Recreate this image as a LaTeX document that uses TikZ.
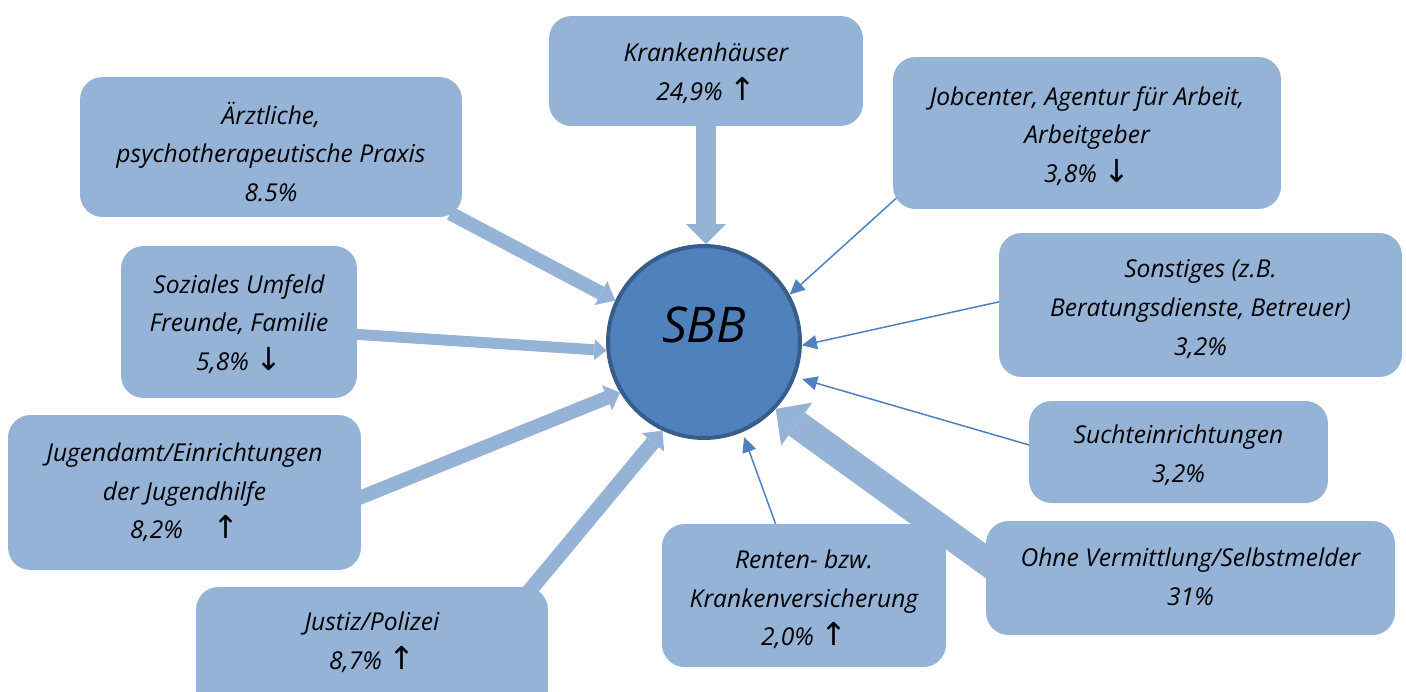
\documentclass[tikz,border=0pt]{standalone}
\usepackage{fontspec}
\setmainfont{Open Sans}
\newfontfamily\arrowfont{DejaVu Sans}
\usetikzlibrary{arrows.meta,calc}
\definecolor{boxblue}{HTML}{95B3D7}
\definecolor{sbbfill}{HTML}{4F81BD}
\definecolor{sbbline}{HTML}{385D8A}
\definecolor{thinblue}{HTML}{4F81BD}
\newcommand\uarr{{\arrowfont\fontsize{18}{18}\selectfont\char"2191}}
\newcommand\darr{{\arrowfont\fontsize{18}{18}\selectfont\char"2193}}
\newcommand\boxtext{\fontsize{14}{22}\selectfont\itshape}
\pgfdeclarelayer{background}
\pgfsetlayers{background,main}
\begin{document}
\begin{tikzpicture}[x=0.02cm,y=-0.02cm,
  box/.style={fill=boxblue, rounded corners=0.45cm, inner sep=0pt},
  boxtxt/.style={inner sep=0pt, align=center, font=\boxtext},
  fat/.style n args={3}{draw=boxblue, line width=#1, -{Triangle[width=#2,length=#3,line width=0pt]}},
  thinarrow/.style={draw=thinblue, line width=0.03cm, -{Triangle[width=0.28cm,length=0.3cm]}}]
\useasboundingbox (0,0) rectangle (1406,691);
\clip (0,0) rectangle (1406,691);

% boxes
\node[box, minimum width=6.28cm, minimum height=2.2cm] (kh) at (706,71) {};
\node[box, minimum width=7.64cm, minimum height=2.8cm] (aerzt) at (271,147) {};
\node[box, minimum width=7.76cm, minimum height=3.04cm] (job) at (1087,133) {};
\node[box, minimum width=4.72cm, minimum height=3.04cm] (soz) at (239,322) {};
\node[box, minimum width=8.06cm, minimum height=2.88cm] (son) at (1200.5,305) {};
\node[box, minimum width=5.98cm, minimum height=2.04cm] (such) at (1178.5,452) {};
\node[box, minimum width=7.06cm, minimum height=3.1cm] (jug) at (184.5,492.5) {};
\node[box, minimum width=8.18cm, minimum height=2.28cm] (ohne) at (1190.5,578) {};
\node[box, minimum width=5.68cm, minimum height=2.86cm] (ren) at (804,595.5) {};
\node[box, minimum width=7.04cm, minimum height=2.8cm] (jus) at (372,657) {};

% texts
\node[boxtxt] (khT) at ($(kh)+(0,2)$) {Krankenhäuser\\24,9\%~\uarr};
\node[boxtxt] (aerztT) at ($(aerzt)+(0,5)$) {Ärztliche,\\psychotherapeutische Praxis\\8.5\%};
\node[boxtxt] (jobT) at ($(job)+(0,3)$) {Jobcenter, Agentur für Arbeit,\\Arbeitgeber\\3,8\%~\darr};
\node[boxtxt] (sozT) at ($(soz)+(0,2)$) {Soziales Umfeld\\Freunde, Familie\\5,8\%~\darr};
\node[boxtxt] (sonT) at ($(son)+(0,4)$) {Sonstiges (z.B.\\Beratungsdienste, Betreuer)\\3,2\%};
\node[boxtxt] (suchT) at ($(such)+(0,3)$) {Suchteinrichtungen\\3,2\%};
\node[boxtxt] (jugT) at ($(jug)+(0,0)$) {Jugendamt/Einrichtungen\\der Jugendhilfe\\8,2\%\hspace{1.2em}\uarr};
\node[boxtxt] (ohneT) at ($(ohne)+(0,-1)$) {Ohne Vermittlung/Selbstmelder\\31\%};
\node[boxtxt] (renT) at ($(ren)+(0,4)$) {Renten- bzw.\\Krankenversicherung\\2,0\%~\uarr};
\node[boxtxt] (jusT) at (372,642) {Justiz/Polizei\\8,7\%~\uarr};

% centre
\node[circle, fill=sbbfill, draw=sbbline, line width=0.08cm, minimum size=3.84cm, inner sep=0pt,
      font=\fontsize{28}{30}\selectfont\itshape] (sbb) at (704,342) {\smash{SBB}};

\begin{pgfonlayer}{background}
  \draw[fat={0.4cm}{0.8cm}{0.4cm}] (kh.south) -- (kh.south |- sbb.north);
  \draw[fat={0.28cm}{0.54cm}{0.32cm}] ($(aerzt.south east)+(-12,-4)$) -- (sbb.155);
  \draw[fat={0.22cm}{0.42cm}{0.24cm}] ($(soz.east)+(-6,12)$) -- (sbb.185);
  \draw[fat={0.28cm}{0.54cm}{0.28cm}] ($(jug.east)+(-6,7)$) -- (sbb.211);
  \draw[fat={0.3cm}{0.58cm}{0.3cm}] ($(jus.north east)+(-22,8)$) -- (sbb.245);
  \draw[fat={0.56cm}{1.06cm}{0.52cm}] ($(ohne.west)+(14,-7)$) -- (sbb.317);
  \draw[thinarrow] ($(job.south west)+(9,-16)$) -- (sbb.29);
  \draw[thinarrow] ($(son.west)+(4,-4)$) -- (sbb.-2);
  \draw[thinarrow, shorten >=4pt] ($(such.west)+(4,-6)$) -- (sbb.-21);
  \draw[thinarrow, shorten >=3pt] ($(ren.north)+(-27,4)$) -- (sbb.-67);
\end{pgfonlayer}
\end{tikzpicture}
\end{document}
